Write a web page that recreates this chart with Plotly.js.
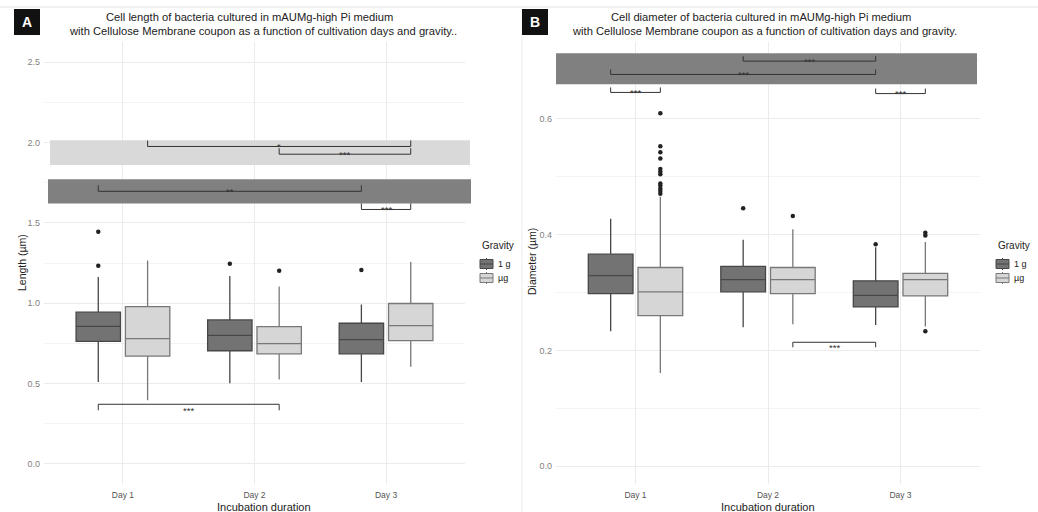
<!DOCTYPE html>
<html><head><meta charset="utf-8">
<script src="https://cdn.plot.ly/plotly-3.0.1.min.js"></script>
<style>html,body{margin:0;padding:0;background:#fff}</style>
</head><body><div id="chart" style="width:1038px;height:512px"></div>
<script>
// ---------- data ----------
const days = ['Day 1', 'Day 2', 'Day 3'];
const groups = ['1 g', 'µg'];

// Panel A : cell length (µm)
const lenG_q1  = [0.762, 0.704, 0.685];
const lenG_med = [0.856, 0.800, 0.773];
const lenG_q3  = [0.944, 0.896, 0.875];
const lenG_lo  = [0.510, 0.502, 0.510];
const lenG_hi  = [1.163, 1.169, 0.992];
const lenG_outDay = [0, 0, 1, 2];
const lenG_outVal = [1.444, 1.233, 1.246, 1.206];

const lenU_q1  = [0.671, 0.685, 0.767];
const lenU_med = [0.779, 0.748, 0.860];
const lenU_q3  = [0.979, 0.854, 0.998];
const lenU_lo  = [0.396, 0.525, 0.604];
const lenU_hi  = [1.265, 1.104, 1.256];
const lenU_outDay = [1];
const lenU_outVal = [1.202];

// Panel B : cell diameter (µm)
const diaG_q1  = [0.298, 0.301, 0.275];
const diaG_med = [0.329, 0.322, 0.295];
const diaG_q3  = [0.366, 0.345, 0.320];
const diaG_lo  = [0.233, 0.240, 0.244];
const diaG_hi  = [0.427, 0.391, 0.378];
const diaG_outDay = [1, 2];
const diaG_outVal = [0.445, 0.383];

const diaU_q1  = [0.260, 0.298, 0.294];
const diaU_med = [0.301, 0.322, 0.322];
const diaU_q3  = [0.343, 0.343, 0.333];
const diaU_lo  = [0.161, 0.245, 0.241];
const diaU_hi  = [0.465, 0.409, 0.387];
const diaU_outDay = [0,0,0,0,0,0,0,0,0,0,0,0, 1, 2,2,2];
const diaU_outVal = [0.609,0.552,0.542,0.531,0.513,0.508,0.504,0.488,0.484,0.479,0.475,0.470, 0.432, 0.403,0.398,0.233];

// significance comparisons (day index, group index), bracket level, label, direction (-1 ticks down, 1 ticks up)
const sigA_day0 = [0, 1, 0, 2, 0];
const sigA_grp0 = [1, 1, 0, 0, 0];
const sigA_day1 = [2, 2, 2, 2, 1];
const sigA_grp1 = [1, 1, 0, 1, 1];
const sigA_y    = [1.975, 1.927, 1.696, 1.583, 0.371];
const sigA_lab  = ['*', '***', '**', '***', '***'];
const sigA_dir  = [-1, -1, -1, -1, 1];

const sigB_day0 = [1, 0, 0, 2, 1];
const sigB_grp0 = [0, 0, 0, 0, 1];
const sigB_day1 = [2, 2, 0, 2, 2];
const sigB_grp1 = [0, 0, 1, 1, 0];
const sigB_y    = [0.699, 0.676, 0.645, 0.643, 0.214];
const sigB_lab  = ['***', '***', '***', '***', '***'];
const sigB_dir  = [-1, -1, -1, -1, 1];

// ---------- style / geometry ----------
const W = 1038, H = 512;
const OFF = [-0.1875, 0.1875];
const BW = 0.3375;
const FILL = ['#737373', '#d6d6d6'];
const LINE = ['#474747', '#787878'];
const FONT = 'Liberation Sans, Arial, sans-serif';
const px = v => v / W, py = v => 1 - v / H;

const axA = {x0: 44, x1: 465}, axB = {x0: 556, x1: 980};
const yTop = 42, yBot = 484;
const yRangeA = [-0.125, 2.625], yRangeB = [-0.0305, 0.732];
const pxPerA = (yBot - yTop) / (yRangeA[1] - yRangeA[0]);
const pxPerB = (yBot - yTop) / (yRangeB[1] - yRangeB[0]);

function boxTrace(q1, med, q3, lo, hi, gi, xa, ya) {
  return {
    type: 'box', x: days.map((d, i) => i + OFF[gi]),
    q1: q1, median: med, q3: q3, lowerfence: lo, upperfence: hi,
    width: BW, fillcolor: FILL[gi], line: {color: LINE[gi], width: 1.3},
    whiskerwidth: 0, boxpoints: false, name: groups[gi], showlegend: false,
    xaxis: xa, yaxis: ya, hoverinfo: 'skip'
  };
}
function outTrace(dayIdx, vals, gi, xa, ya) {
  return {
    type: 'scatter', mode: 'markers', x: dayIdx.map(d => d + OFF[gi]), y: vals,
    marker: {color: '#222', size: 4.5}, showlegend: false, xaxis: xa, yaxis: ya, hoverinfo: 'skip'
  };
}

const traces = [
  boxTrace(lenG_q1, lenG_med, lenG_q3, lenG_lo, lenG_hi, 0, 'x', 'y'),
  boxTrace(lenU_q1, lenU_med, lenU_q3, lenU_lo, lenU_hi, 1, 'x', 'y'),
  outTrace(lenG_outDay, lenG_outVal, 0, 'x', 'y'),
  outTrace(lenU_outDay, lenU_outVal, 1, 'x', 'y'),
  boxTrace(diaG_q1, diaG_med, diaG_q3, diaG_lo, diaG_hi, 0, 'x2', 'y2'),
  boxTrace(diaU_q1, diaU_med, diaU_q3, diaU_lo, diaU_hi, 1, 'x2', 'y2'),
  outTrace(diaG_outDay, diaG_outVal, 0, 'x2', 'y2'),
  outTrace(diaU_outDay, diaU_outVal, 1, 'x2', 'y2')
];

const shapes = [];
const annotations = [];

// page decorations
shapes.push({type:'line', xref:'paper', yref:'paper', x0:0, x1:1, y0:py(7), y1:py(7), line:{color:'#e3e3e3', width:1}});
shapes.push({type:'line', xref:'paper', yref:'paper', x0:px(522), x1:px(522), y0:0, y1:py(7), line:{color:'#ededed', width:1}});

// significance bands (drawn over grid)
shapes.push({type:'rect', xref:'paper', yref:'y', x0:px(50), x1:px(470), y0:1.860, y1:2.014, fillcolor:'#d9d9d9', line:{width:0}, layer:'above'});
shapes.push({type:'rect', xref:'paper', yref:'y', x0:px(48), x1:px(471), y0:1.620, y1:1.771, fillcolor:'#808080', line:{width:0}, layer:'above'});
shapes.push({type:'rect', xref:'paper', yref:'y2', x0:px(556), x1:px(977), y0:0.659, y1:0.7126, fillcolor:'#808080', line:{width:0}, layer:'above'});

function brackets(d0, g0, d1, g1, ys, labs, dirs, xr, yr, pxPer, tickPx, shiftDown) {
  for (let i = 0; i < ys.length; i++) {
    const xa = d0[i] + OFF[g0[i]], xb = d1[i] + OFF[g1[i]], y = ys[i];
    const t = dirs[i] * tickPx / pxPer;
    shapes.push({type:'path', xref:xr, yref:yr, layer:'above',
      path:`M${xa},${y - t} L${xa},${y} L${xb},${y} L${xb},${y - t}`,
      line:{color:'#333', width:1}});
    annotations.push({xref:xr, yref:yr, x:(xa + xb) / 2, y:y, text:labs[i], showarrow:false,
      yanchor:'middle', yshift: dirs[i] > 0 ? -shiftDown : 0,
      font:{family:FONT, size:9.5, color:'#333'}});
  }
}
brackets(sigA_day0, sigA_grp0, sigA_day1, sigA_grp1, sigA_y, sigA_lab, sigA_dir, 'x', 'y', pxPerA, 6, 6);
brackets(sigB_day0, sigB_grp0, sigB_day1, sigB_grp1, sigB_y, sigB_lab, sigB_dir, 'x2', 'y2', pxPerB, 5, 5);

// manual legends (ggplot-style boxplot keys)
function legendBlock(lx) {
  annotations.push({xref:'paper', yref:'paper', x:px(lx), y:py(245), text:'Gravity', showarrow:false,
    xanchor:'left', yanchor:'middle', font:{family:FONT, size:10, color:'#222'}});
  groups.forEach((g, gi) => {
    const cy = 264 + gi * 14;
    shapes.push({type:'line', xref:'paper', yref:'paper', x0:px(lx + 6.5), x1:px(lx + 6.5), y0:py(cy - 6), y1:py(cy + 6), line:{color:LINE[gi], width:1}});
    shapes.push({type:'rect', xref:'paper', yref:'paper', x0:px(lx), x1:px(lx + 13), y0:py(cy + 4.5), y1:py(cy - 4.5), fillcolor:FILL[gi], line:{color:LINE[gi], width:1}});
    shapes.push({type:'line', xref:'paper', yref:'paper', x0:px(lx), x1:px(lx + 13), y0:py(cy), y1:py(cy), line:{color:LINE[gi], width:1}});
    annotations.push({xref:'paper', yref:'paper', x:px(lx + 16), y:py(cy), text:g, showarrow:false,
      xanchor:'left', yanchor:'middle', font:{family:FONT, size:9, color:'#222'}});
  });
}
legendBlock(480);
legendBlock(996);

// panel tags
[['A', 27], ['B', 535]].forEach(([t, x]) => {
  shapes.push({type:'rect', xref:'paper', yref:'paper', x0:px(x - 13), x1:px(x + 13), y0:py(35), y1:py(9), fillcolor:'#111', line:{width:0}});
  annotations.push({xref:'paper', yref:'paper', x:px(x), y:py(22), text:'<b>' + t + '</b>', showarrow:false,
    xanchor:'center', yanchor:'middle', font:{family:FONT, size:14, color:'#fff'}});
});

// titles
const titleLines = [
  ['Cell length of bacteria cultured in mAUMg-high Pi medium', 249, 17],
  ['with Cellulose Membrane coupon as a function of cultivation days and gravity..', 263, 31],
  ['Cell diameter of bacteria cultured in mAUMg-high Pi medium', 761, 17],
  ['with Cellulose Membrane coupon as a function of cultivation days and gravity.', 764, 31]
];
titleLines.forEach(([t, x, y]) => annotations.push({xref:'paper', yref:'paper', x:px(x), y:py(y), text:t,
  showarrow:false, xanchor:'center', yanchor:'middle', font:{family:FONT, size:11.2, color:'#222'}}));

// axis titles
annotations.push({xref:'paper', yref:'paper', x:px(264), y:py(507), text:'Incubation duration', showarrow:false,
  xanchor:'center', yanchor:'middle', font:{family:FONT, size:11, color:'#222'}});
annotations.push({xref:'paper', yref:'paper', x:px(768), y:py(507), text:'Incubation duration', showarrow:false,
  xanchor:'center', yanchor:'middle', font:{family:FONT, size:11, color:'#222'}});
annotations.push({xref:'paper', yref:'paper', x:px(22), y:py(263), text:'Length (µm)', showarrow:false, textangle:-90,
  xanchor:'center', yanchor:'middle', font:{family:FONT, size:10.5, color:'#222'}});
annotations.push({xref:'paper', yref:'paper', x:px(532), y:py(262), text:'Diameter (µm)', showarrow:false, textangle:-90,
  xanchor:'center', yanchor:'middle', font:{family:FONT, size:10.5, color:'#222'}});

const xCommon = {
  range:[-0.6, 2.6], tickvals:[0, 1, 2], ticktext:days, showgrid:true, gridcolor:'#ebebeb', gridwidth:1,
  zeroline:false, showline:false, ticks:'', ticklabelstandoff:4,
  tickfont:{family:FONT, size:8.5, color:'#555'}, fixedrange:true
};
const yCommon = {
  showgrid:true, gridcolor:'#ebebeb', gridwidth:1, zeroline:false, showline:false, ticks:'', ticklabelstandoff:3,
  tickfont:{family:FONT, size:9, color:'#7f7f7f'}, tickformat:'.1f', fixedrange:true
};

const layout = {
  width:W, height:H, margin:{l:0, r:0, t:0, b:0}, paper_bgcolor:'#fff', plot_bgcolor:'#fff',
  boxmode:'overlay', font:{family:FONT}, showlegend:false,
  xaxis: Object.assign({}, xCommon, {domain:[px(axA.x0), px(axA.x1)], anchor:'y'}),
  yaxis: Object.assign({}, yCommon, {domain:[py(yBot), py(yTop)], range:yRangeA, dtick:0.5, tick0:0,
    minor:{dtick:0.25, tick0:0, showgrid:true, gridcolor:'#f4f4f4'}, anchor:'x'}),
  xaxis2: Object.assign({}, xCommon, {domain:[px(axB.x0), px(axB.x1)], anchor:'y2'}),
  yaxis2: Object.assign({}, yCommon, {domain:[py(yBot), py(yTop)], range:yRangeB, dtick:0.2, tick0:0,
    minor:{dtick:0.1, tick0:0, showgrid:true, gridcolor:'#f4f4f4'}, anchor:'x2'}),
  shapes: shapes, annotations: annotations
};

Plotly.newPlot('chart', traces, layout, {staticPlot:true, displayModeBar:false});
</script></body></html>
